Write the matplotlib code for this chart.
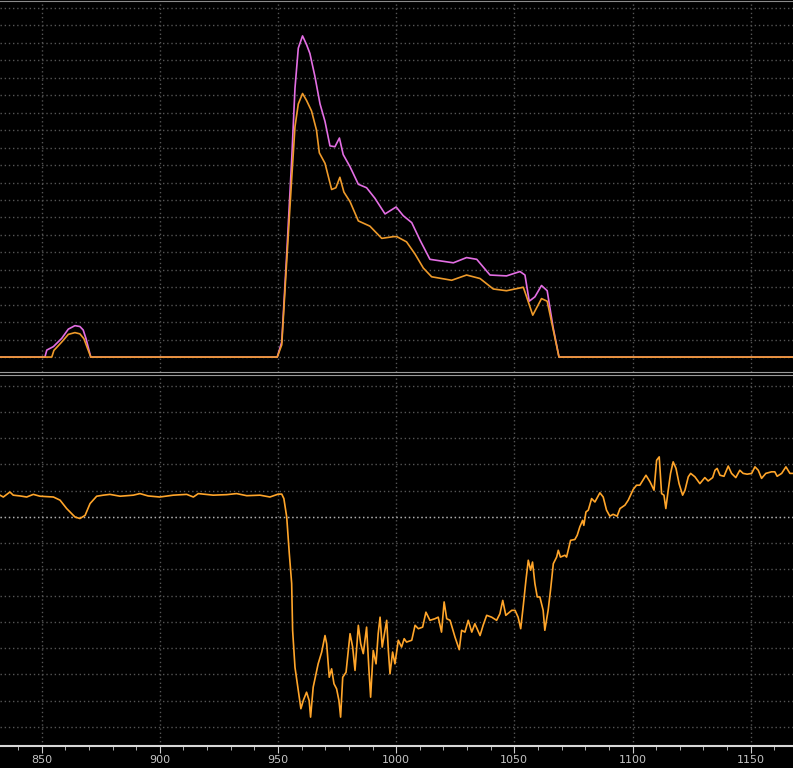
import matplotlib
matplotlib.use("Agg")
import matplotlib.pyplot as plt
from matplotlib.ticker import MultipleLocator

# top panel: two traces (grid units)
mag_x = [832, 851.4, 852.2, 855, 858.5, 861.3, 864.1, 866.2, 867.6, 868.8, 870.8,
         949.7, 951.6, 953.7, 955.8, 957.2, 958.6, 960.4, 962.1, 963.5, 965.6, 967.8,
         969.9, 972.0, 974.1, 976.0, 977.6, 980.5, 984.0, 987.5, 991.0, 995.3, 1000,
         1003, 1006.6, 1010.1, 1014.3, 1019.2, 1024.2, 1029.8, 1034.1, 1039.7, 1046.7,
         1052.4, 1054.5, 1056.3, 1058.7, 1061.5, 1063.9, 1066.4, 1068.9, 1168]
mag_y = [0, 0, 0.4, 0.6, 1.07, 1.6, 1.8, 1.75, 1.55, 1.05, 0,
         0, 0.87, 5.9, 11.3, 15.4, 17.7, 18.4, 17.9, 17.4, 16.1, 14.5,
         13.5, 12.1, 12.05, 12.55, 11.6, 10.9, 9.9, 9.7, 9.1, 8.2, 8.6,
         8.1, 7.7, 6.7, 5.6, 5.5, 5.4, 5.7, 5.6, 4.7, 4.65,
         4.9, 4.7, 3.2, 3.45, 4.1, 3.8, 1.7, 0, 0]

org_x = [832, 854.3, 855.2, 858.5, 861.3, 864.1, 866.2, 867.9, 870.8,
         949.7, 951.6, 953.7, 955.8, 957.2, 958.6, 960.4, 962.1, 964.2, 966.3, 967.5,
         969.9, 972.7, 974.5, 976.2, 977.9, 980.5, 984.0, 988.9, 993.9, 998.9, 1000.3,
         1004.4, 1008, 1011.5, 1015, 1023.5, 1029.8, 1035.5, 1041.1, 1046.7, 1053.8,
         1055.2, 1057.8, 1061.5, 1063.9, 1066.4, 1068.9, 1168]
org_y = [0, 0, 0.38, 0.86, 1.3, 1.4, 1.33, 1.05, 0,
         0, 0.7, 5.5, 10.2, 13.2, 14.5, 15.1, 14.7, 14.1, 13.0, 11.7,
         11.1, 9.6, 9.7, 10.3, 9.45, 8.9, 7.8, 7.5, 6.8, 6.9, 6.9,
         6.6, 5.9, 5.1, 4.6, 4.4, 4.7, 4.5, 3.9, 3.8, 4.0,
         3.45, 2.4, 3.35, 3.2, 1.6, 0, 0]

# bottom panel trace
bot_x = [832.4, 833.8, 836.6, 838.0, 840.9, 843.7, 846.5, 849.3, 855.0, 857.8,
         860.6, 864.1, 866.2, 868.4, 870.5, 873.3, 876.1, 878.9, 883.2, 888.8,
         891.6, 895.1, 900.0, 905.7, 911.4, 914.2, 916.3, 922.6, 928.3, 932.5,
         936.8, 942.4, 946.6, 950.1, 951.6, 952.5, 953.7, 954.8, 955.8, 956.2,
         957.2, 958.6, 959.7, 960.7, 962.1, 963.2, 963.8, 964.9, 967.0, 968.5,
         969.9, 970.6, 971.7, 972.7, 973.7, 974.8, 975.8, 976.5, 977.4, 978.8,
         980.5, 981.6, 982.6, 984.0, 985.0, 986.1, 987.5, 988.5, 989.2, 990.3,
         991.5, 992.4, 993.2, 994.1, 996.0, 996.7, 997.4, 998.5, 999.5, 1000.9,
         1002.3, 1003.4, 1004.4, 1006.6, 1008.0, 1009.4, 1011.2, 1012.6, 1014.3, 1016.4,
         1017.8, 1019.2, 1020.3, 1021.4, 1022.8, 1024.9, 1026.7, 1027.7, 1029.1, 1030.5,
         1032.0, 1033.3, 1035.5, 1036.8, 1038.3, 1040.4, 1042.5, 1043.9, 1045.1, 1046.4,
         1048.9, 1050.3, 1051.6, 1052.7, 1053.8, 1054.9, 1055.9, 1056.9, 1057.7, 1058.7,
         1059.7, 1060.8, 1062.2, 1062.9, 1064.3, 1065.3, 1066.5, 1067.9, 1068.6, 1069.5,
         1071.4, 1072.1, 1073.8, 1075.6, 1076.6, 1077.7, 1078.9, 1079.4, 1080.3, 1081.3,
         1082.7, 1084.1, 1086.2, 1087.6, 1089.0, 1090.4, 1091.8, 1093.5, 1094.7, 1096.8,
         1098.2, 1100.3, 1101.7, 1103.1, 1105.7, 1107.4, 1109.1, 1110.2, 1111.3, 1112.3,
         1113.3, 1114.1, 1115.1, 1116.1, 1117.2, 1118.4, 1119.7, 1121.2, 1122.2, 1123.6,
         1124.6, 1126.4, 1128.5, 1130.6, 1132.0, 1133.9, 1134.9, 1135.8, 1137.0, 1138.7,
         1140.5, 1141.9, 1143.7, 1145.4, 1146.8, 1148.5, 1150.4, 1151.8, 1153.2, 1154.6,
         1156.4, 1158.8, 1160.2, 1161.2, 1163.1, 1164.9, 1166.6, 1167.9]
bot_y = [0.83, 0.76, 0.95, 0.83, 0.80, 0.76, 0.86, 0.79, 0.76, 0.64,
         0.32, 0.00, -0.06, 0.06, 0.51, 0.79, 0.83, 0.86, 0.79, 0.83,
         0.89, 0.80, 0.76, 0.83, 0.86, 0.76, 0.89, 0.83, 0.85, 0.89,
         0.81, 0.83, 0.76, 0.87, 0.87, 0.70, 0.00, -1.40, -2.54, -4.32,
         -5.73, -6.61, -7.31, -7.00, -6.68, -7.00, -7.63, -6.49, -5.60, -5.15,
         -4.52, -4.83, -6.11, -5.79, -6.36, -6.55, -7.00, -7.63, -6.11, -5.92,
         -4.45, -4.96, -5.85, -4.13, -4.83, -5.21, -4.20, -5.85, -6.87, -5.09,
         -5.60, -4.45, -3.82, -4.96, -3.94, -5.09, -5.98, -5.15, -5.60, -4.70,
         -4.96, -4.64, -4.77, -4.70, -4.13, -4.26, -4.20, -3.63, -3.94, -3.88,
         -3.82, -4.39, -3.24, -3.88, -3.94, -4.58, -5.06, -4.32, -4.39, -3.94,
         -4.39, -4.07, -4.52, -4.13, -3.75, -3.82, -3.94, -3.69, -3.18, -3.75,
         -3.56, -3.56, -3.82, -4.26, -3.37, -2.42, -1.65, -2.03, -1.72, -2.54,
         -3.05, -3.05, -3.56, -4.32, -3.56, -2.80, -1.78, -1.53, -1.27, -1.53,
         -1.46, -1.53, -0.89, -0.86, -0.70, -0.38, -0.13, -0.32, 0.19, 0.26,
         0.70, 0.57, 0.92, 0.76, 0.26, 0.03, 0.10, 0.03, 0.32, 0.45,
         0.64, 1.05, 1.21, 1.21, 1.59, 1.34, 1.02, 2.16, 2.29, 0.89,
         0.83, 0.32, 1.02, 1.66, 2.10, 1.85, 1.27, 0.83, 1.02, 1.53,
         1.66, 1.53, 1.27, 1.50, 1.37, 1.50, 1.78, 1.85, 1.59, 1.55,
         1.94, 1.66, 1.50, 1.78, 1.66, 1.63, 1.66, 1.91, 1.78, 1.47,
         1.66, 1.72, 1.72, 1.55, 1.66, 1.91, 1.66, 1.66]

x_ticks = [850, 900, 950, 1000, 1050, 1100, 1150]

MAGENTA = '#e36ee3'
ORANGE_TOP = '#ee9a2a'
ORANGE_BOT = '#ffa52a'
GRID = '#555555'

fig = plt.figure(figsize=(7.93, 7.68), dpi=100, facecolor='black')
ax_top = fig.add_axes([0, 0.5156, 1, 0.4831], facecolor='black')
ax_bot = fig.add_axes([0, 0.028, 1, 0.4837], facecolor='black')

for ax in (ax_top, ax_bot):
    ax.set_xlim(832.4, 1167.9)
    ax.set_xticks(x_ticks)
    ax.yaxis.set_major_locator(MultipleLocator(1))
    ax.tick_params(axis='y', left=False, labelleft=False)
    ax.grid(True, color=GRID, linestyle=(0, (1, 2)), linewidth=1)
    ax.spines['left'].set_visible(False)
    ax.spines['right'].set_visible(False)
    ax.set_axisbelow(True)

# top panel
ax_top.set_ylim(-0.857, 20.4)
ax_top.plot(mag_x, mag_y, color=MAGENTA, lw=1.2)
ax_top.plot(org_x, org_y, color=ORANGE_TOP, lw=1.2)
ax_top.tick_params(axis='x', bottom=False, labelbottom=False)
ax_top.spines['top'].set_color('#8a8a8a')
ax_top.spines['bottom'].set_color('#9a9a9a')

# bottom panel
ax_bot.set_ylim(-8.75, 5.41)
ax_bot.axhline(0, color='#b0b0b0', linestyle=(0, (1, 2)), lw=1, zorder=1)
ax_bot.plot(bot_x, bot_y, color=ORANGE_BOT, lw=1.2, zorder=2)
ax_bot.xaxis.set_minor_locator(MultipleLocator(10))
ax_bot.tick_params(axis='x', which='major', length=5, color='#cccccc',
                   labelcolor='#c4c4c4', labelsize=8, pad=1)
ax_bot.tick_params(axis='x', which='minor', length=3, color='#cccccc')
ax_bot.spines['top'].set_color('#9a9a9a')
ax_bot.spines['bottom'].set_color('#d8d8d8')
ax_bot.spines['bottom'].set_linewidth(1.5)

fig.savefig('out.png', dpi=100, facecolor='black')
